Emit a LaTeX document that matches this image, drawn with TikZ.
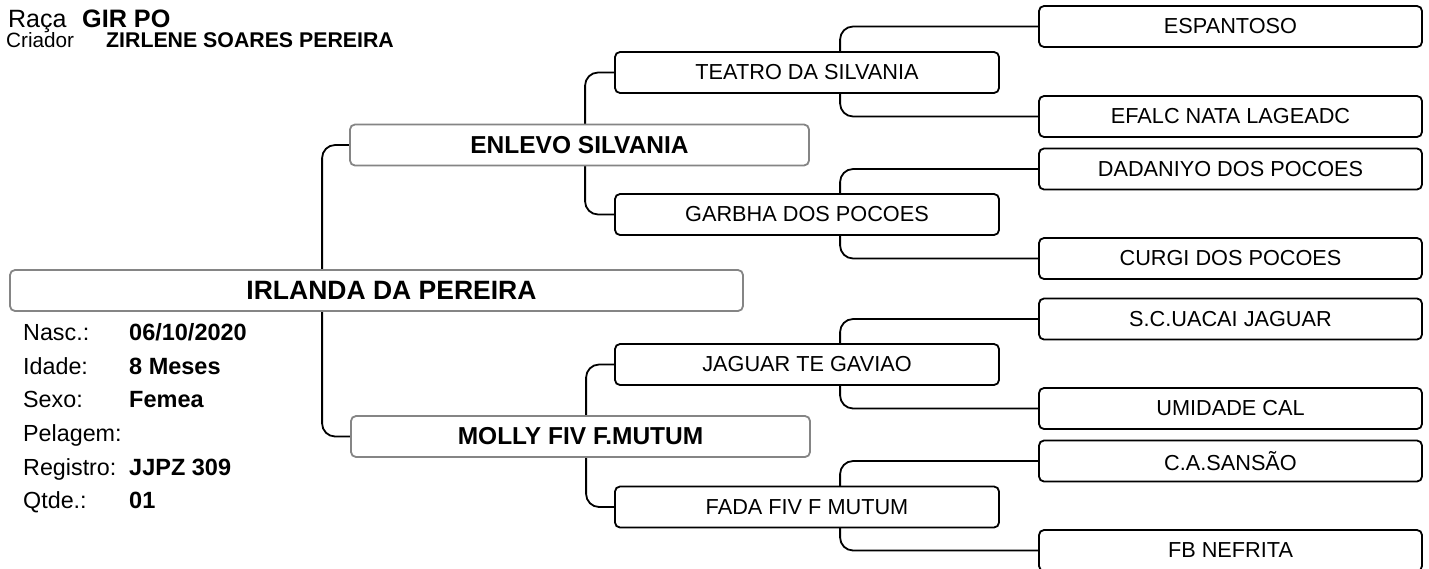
\documentclass[tikz,border=0pt]{standalone}
\usepackage{fontspec}
\setmainfont{Liberation Sans}
\pgfdeclarelayer{background}
\pgfsetlayers{background,main}
\tikzset{
  gbox/.style={draw=black!48, line width=1.8pt, fill=white, rounded corners=5pt, inner sep=0pt, minimum height=41pt, font=\fontsize{24.5}{28}\selectfont\bfseries},
  bbox/.style={draw=black, line width=1.8pt, fill=white, rounded corners=5pt, inner sep=0pt, minimum height=41pt, minimum width=383pt, font=\fontsize{21.7}{25}\selectfont},
  conn/.style={draw=black, line width=1.8pt, rounded corners=13pt},
  lbl/.style={anchor=base west, inner sep=0pt, font=\fontsize{23.3}{27}\selectfont},
  val/.style={anchor=base west, inner sep=0pt, font=\fontsize{23.5}{27}\selectfont\bfseries},
}
\begin{document}
\begin{tikzpicture}[x=1pt,y=-1pt]
\useasboundingbox (0,0) rectangle (1429,568);
\begin{pgfonlayer}{background}
\fill[white] (0,0) rectangle (1429,568);
\end{pgfonlayer}
% header
\node[lbl, font=\fontsize{25}{29}\selectfont] (raca) at (8,27) {Raça};
\node[val, font=\fontsize{25.2}{29}\selectfont\bfseries] (racav) at (82,27) {GIR PO};
\node[lbl, font=\fontsize{20.7}{24}\selectfont] (criador) at (6,47) {Criador};
\node[val, font=\fontsize{21.3}{25}\selectfont\bfseries] (criadorv) at (106,47) {ZIRLENE SOARES PEREIRA};
% main
\node[gbox, minimum width=733pt, font=\fontsize{26.5}{30}\selectfont\bfseries] (main) at (376.5,290.5) {\hspace*{30pt}IRLANDA DA PEREIRA};
% info
\node[lbl] (l1) at (23,340) {Nasc.:};     \node[val] (v1) at (129,340) {06/10/2020};
\node[lbl] (l2) at (23,374) {Idade:};     \node[val] (v2) at (129,374) {8 Meses};
\node[lbl] (l3) at (23,407) {Sexo:};      \node[val] (v3) at (129,407) {Femea};
\node[lbl] (l4) at (23,441) {Pelagem:};
\node[lbl] (l5) at (23,475) {Registro:};  \node[val] (v5) at (129,475) {JJPZ 309};
\node[lbl] (l6) at (23,508) {Qtde.:};     \node[val] (v6) at (129,508) {01};
% level 1
\node[gbox, minimum width=459pt] (s) at (579.5,145) {ENLEVO SILVANIA};
\node[gbox, minimum width=459pt] (d) at (580.5,436.5) {MOLLY FIV F.MUTUM};
% level 2
\node[bbox, minimum width=384pt] (ss) at (807,72.5) {TEATRO DA SILVANIA};
\node[bbox, minimum width=384pt] (sd) at (807,214.5) {GARBHA DOS POCOES};
\node[bbox, minimum width=384pt] (ds) at (807,364.5) {JAGUAR TE GAVIAO};
\node[bbox, minimum width=384pt] (dd) at (807,507) {FADA FIV F MUTUM};
% level 3
\node[bbox] (sss) at (1230.5,26.5) {ESPANTOSO};
\node[bbox] (ssd) at (1230.5,116.5) {EFALC NATA LAGEADC};
\node[bbox] (sds) at (1230.5,169) {DADANIYO DOS POCOES};
\node[bbox] (sdd) at (1230.5,258.5) {CURGI DOS POCOES};
\node[bbox] (dss) at (1230.5,319) {S.C.UACAI JAGUAR};
\node[bbox] (dsd) at (1230.5,408.5) {UMIDADE CAL};
\node[bbox] (dds) at (1230.5,461) {C.A.SANSÃO};
\node[bbox] (ddd) at (1230.5,550.5) {FB NEFRITA};
% connectors
\begin{pgfonlayer}{background}
\draw[conn] (s.west) -- ++(-27,0) |- (d.west);
\draw[conn] (ss.west) -- ++(-29,0) |- (sd.west);
\draw[conn] (ds.west) -- ++(-28,0) |- (dd.west);
\draw[conn] (sss.west) -- ++(-198,0) |- (ssd.west);
\draw[conn] (sds.west) -- ++(-198,0) |- (sdd.west);
\draw[conn] (dss.west) -- ++(-198,0) |- (dsd.west);
\draw[conn] (dds.west) -- ++(-198,0) |- (ddd.west);
\end{pgfonlayer}
\end{tikzpicture}
\end{document}
